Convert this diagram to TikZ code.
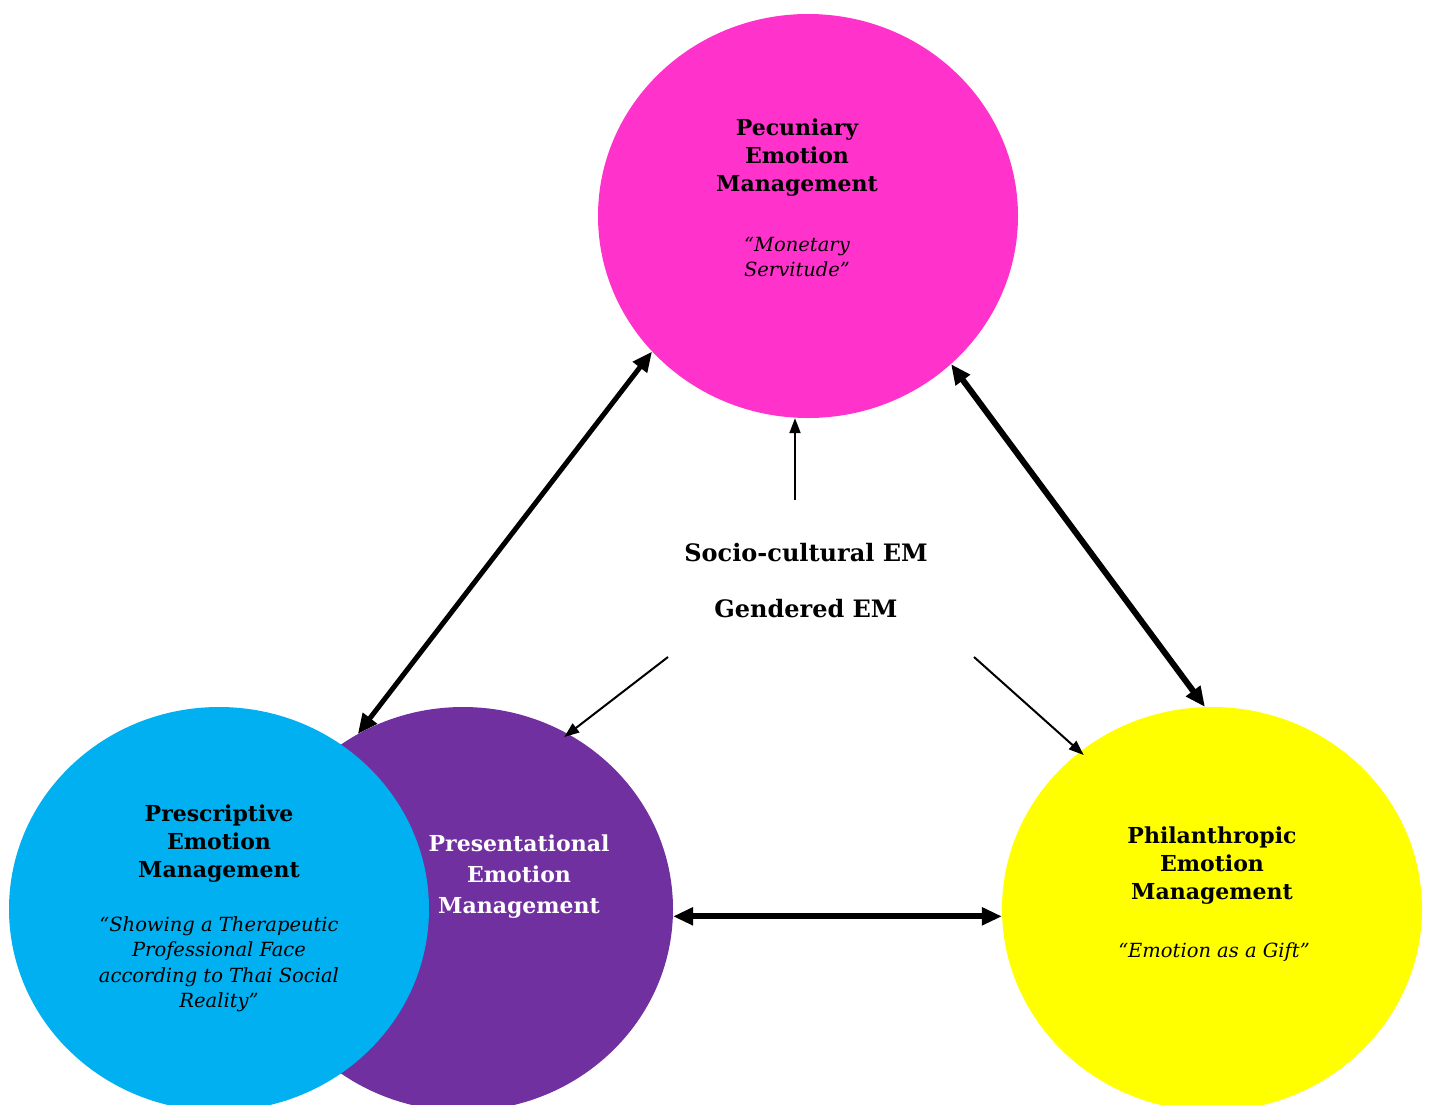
\documentclass[tikz,border=0pt]{standalone}
\usepackage{fontspec}
\setmainfont{DejaVu Serif}
\usepackage{xcolor}
\usetikzlibrary{shapes.geometric,arrows.meta}
\definecolor{pecpink}{HTML}{FF33CC}
\definecolor{prespurple}{HTML}{7030A0}
\definecolor{presblue}{HTML}{00B0F0}
\definecolor{phiyellow}{HTML}{FFFF00}

\begin{document}
\begin{tikzpicture}[x=1pt,y=-1pt,
		bubble/.style={ellipse,minimum width=420pt,minimum height=404pt,inner sep=0pt},
		title/.style={align=center,font=\fontsize{22}{28}\selectfont\bfseries},
		quote/.style={align=center,font=\fontsize{19.5}{25.5}\selectfont\itshape},
		bigarrow/.style={line width=5pt,{Triangle[length=20pt,width=17pt]}-{Triangle[length=20pt,width=17pt]}},
		thinarrow/.style={line width=2pt,-{Triangle[length=15pt,width=11pt]}}]
			\useasboundingbox (0,0) rectangle (1429,1104);
			% the four circles
			\node[bubble,fill=pecpink] (pec) at (808,216) {};
			\node[bubble,fill=prespurple] (pres) at (463,909) {};
			\node[bubble,fill=presblue] (pre) at (219,909) {};
			\node[bubble,fill=phiyellow] (phi) at (1212,909) {};
			% texts
			\node[title] (pec-t) at (797,158) {Pecuniary\\Emotion\\Management};
			\node[quote] (pec-q) at (797,257) {“Monetary\\Servitude”};
			\node[title,white,font=\fontsize{22}{31}\selectfont\bfseries] (pres-t) at (519,877) {Presentational\\Emotion\\Management};
			\node[title] (pre-t) at (219,844) {Prescriptive\\Emotion\\Management};
			\node[quote] (pre-q) at (219,964) {“Showing a Therapeutic\\Professional Face\\according to Thai Social\\Reality”};
			\node[title] (phi-t) at (1212,866) {Philanthropic\\Emotion\\Management};
			\node[quote] (phi-q) at (1214,952) {“Emotion as a Gift”};
			\node[title,font=\fontsize{24}{28}\selectfont\bfseries] (socio) at (806,553) {Socio-cultural EM};
			\node[title,font=\fontsize{24}{28}\selectfont\bfseries] (gender) at (806,609) {Gendered EM};
			% arrows
			\coordinate (up) at (795,500);
			\coordinate (dl) at (668,657);
			\coordinate (dr) at (974,657);
			\draw[bigarrow] (pres.121) -- (pec.221);
			\draw[bigarrow,line width=6pt] (pec.314) -- (phi.92);
			\draw[bigarrow,line width=6pt] (pres.-2) -- (phi.182);
			\draw[thinarrow] (up) -- (up |- pec.south);
			\draw[thinarrow,shorten >=-5pt] (dl) -- (pres.59);
			\draw[thinarrow,shorten >=-5pt] (dr) -- (phi.130);
		\end{tikzpicture}
\end{document}
